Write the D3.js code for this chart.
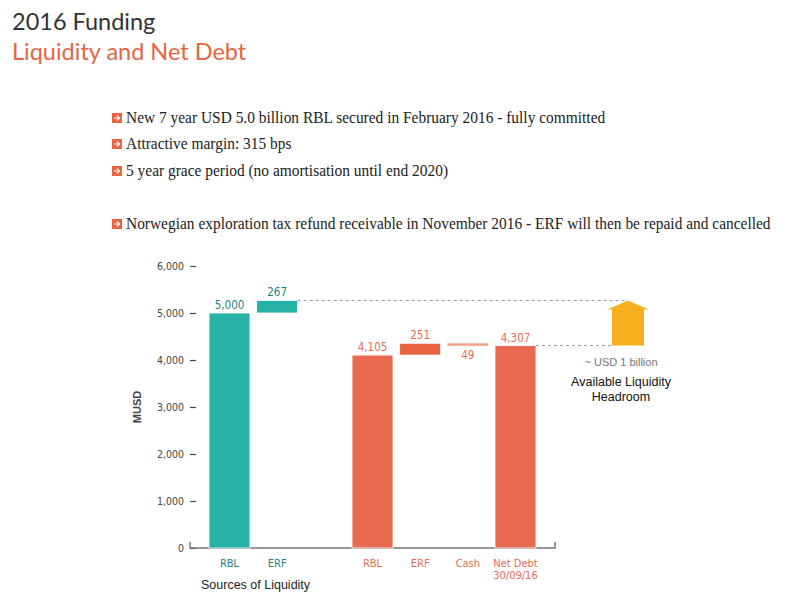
<!DOCTYPE html>
<html>
<head>
<meta charset="utf-8">
<script src="https://cdn.jsdelivr.net/npm/d3@7"></script>
<style>
  body { margin: 0; background: #fff; }
  svg { display: block; }
</style>
</head>
<body>
<div id="chart"></div>
<script>
// --- data ---
const categories = ["RBL", "ERF", "", "RBL ", "ERF ", "Cash", "Net Debt"];
const starts = [0, 5000, null, 0, 4105, 4356, 0];
const ends = [5000, 5267, null, 4105, 4356, 4307, 4307];
const valueLabels = ["5,000", "267", "", "4,105", "251", "49", "4,307"];
const groups = ["source", "source", "", "debt", "debt", "cash", "debt"];
const yTicks = [0, 1000, 2000, 3000, 4000, 5000, 6000];
const bullets = [
  "New 7 year USD 5.0 billion RBL secured in February 2016 - fully committed",
  "Attractive margin: 315 bps",
  "5 year grace period (no amortisation until end 2020)",
  "Norwegian exploration tax refund receivable in November 2016 - ERF will then be repaid and cancelled"
];

const width = 800;
const height = 600;

const teal = "#27b1a7";
const tealText = "#1f7f86";
const orange = "#e96b52";
const orangeDark = "#e8633f";
const cashColor = "#f1a387";
const arrowColor = "#f6b01e";

const svg = d3
  .select("#chart")
  .append("svg")
  .attr("width", width)
  .attr("height", height);

// --- title ---
svg.append("text")
  .attr("x", 12).attr("y", 30)
  .attr("font-family", "Lato, 'Open Sans', sans-serif")
  .attr("font-size", 23.5)
  .attr("fill", "#333")
  .text("2016 Funding");

svg.append("text")
  .attr("x", 12).attr("y", 60)
  .attr("font-family", "Lato, 'Open Sans', sans-serif")
  .attr("font-size", 23.5)
  .attr("fill", "#e8643f")
  .text("Liquidity and Net Debt");

// --- bullets ---
const bulletY = [118, 144, 171, 224];
bullets.forEach((t, i) => {
  const g = svg.append("g").attr("transform", `translate(112,${bulletY[i]})`);
  g.append("rect")
    .attr("x", 0).attr("y", -5)
    .attr("width", 10).attr("height", 10)
    .attr("fill", "#e8643f");
  // small arrow glyph inside the square
  g.append("path")
    .attr("d", "M2,0 H7 M5,-2.5 L7.5,0 L5,2.5")
    .attr("fill", "none")
    .attr("stroke", "#fff")
    .attr("stroke-width", 1.2);
  // condensed look: squeeze the serif text horizontally
  g.append("text")
    .attr("transform", "translate(14,5) scale(0.935,1)")
    .attr("font-family", "'Liberation Serif', 'DejaVu Serif', serif")
    .attr("font-size", 16.5)
    .attr("fill", "#222")
    .text(t);
});

// --- chart ---
const x = d3
  .scaleBand()
  .domain(categories)
  .range([209, 536])
  .paddingInner(0.14)
  .paddingOuter(0);

const y = d3.scaleLinear().domain([0, 6000]).range([548, 266]);

// y axis (ticks only, no domain line)
const yAxis = svg.append("g")
  .attr("transform", "translate(196,0)")
  .call(d3.axisLeft(y).tickValues(yTicks).tickSize(6).tickPadding(6)
    .tickFormat((d) => d3.format(",")(d)));
yAxis.select(".domain").remove();
yAxis.selectAll(".tick line").attr("stroke", "#444").attr("stroke-width", 1.2);
yAxis.selectAll("text")
  .attr("font-family", "'DejaVu Sans Condensed', 'DejaVu Sans', sans-serif")
  .attr("font-size", 10.5)
  .attr("fill", "#444");

svg.append("text")
  .attr("transform", `translate(141,${y(3000)}) rotate(-90)`)
  .attr("text-anchor", "middle")
  .attr("font-family", "'Liberation Sans', Arial, sans-serif")
  .attr("font-size", 11)
  .attr("font-weight", "bold")
  .attr("fill", "#444")
  .text("MUSD");

// baseline with small end caps
svg.append("path")
  .attr("d", `M190,${y(0) - 6} V${y(0)} H555 V${y(0) - 6}`)
  .attr("fill", "none")
  .attr("stroke", "#777")
  .attr("stroke-width", 1.5);

// bars
const barData = categories.map((c, i) => ({
  cat: c, start: starts[i], end: ends[i], label: valueLabels[i], group: groups[i], i
})).filter((d) => d.start !== null);

function barFill(d) {
  if (d.group === "source") return teal;
  if (d.group === "cash") return cashColor;
  if (d.cat === "ERF ") return orangeDark;
  return orange;
}

svg.append("g")
  .selectAll("rect")
  .data(barData)
  .enter()
  .append("rect")
  .attr("x", (d) => x(d.cat))
  .attr("width", x.bandwidth())
  .attr("y", (d) => y(Math.max(d.start, d.end)))
  .attr("height", (d) => Math.max(2.5, Math.abs(y(d.start) - y(d.end))))
  .attr("fill", barFill)
  .attr("stroke", (d) => (d.group === "cash" ? "none" : "#fff"))
  .attr("stroke-width", 0.8);

// value labels
svg.append("g")
  .selectAll("text")
  .data(barData)
  .enter()
  .append("text")
  .attr("x", (d) => x(d.cat) + x.bandwidth() / 2)
  .attr("y", (d) => d.group === "cash" ? y(d.end) + 13 : y(Math.max(d.start, d.end)) - 4)
  .attr("text-anchor", "middle")
  .attr("font-family", "'DejaVu Sans Condensed', 'DejaVu Sans', sans-serif")
  .attr("font-size", 11.5)
  .attr("fill", (d) => (d.group === "source" ? tealText : orange))
  .text((d) => d.label);

// category labels
const catG = svg.append("g");
barData.forEach((d) => {
  const t = catG.append("text")
    .attr("x", x(d.cat) + x.bandwidth() / 2)
    .attr("y", 567)
    .attr("text-anchor", "middle")
    .attr("font-family", "'DejaVu Sans Condensed', 'DejaVu Sans', sans-serif")
    .attr("font-size", 11)
    .attr("fill", d.group === "source" ? tealText : orange);
  t.append("tspan").text(d.cat.trim());
  if (d.cat === "Net Debt") {
    t.append("tspan")
      .attr("x", x(d.cat) + x.bandwidth() / 2)
      .attr("dy", 12)
      .text("30/09/16");
  }
});

svg.append("text")
  .attr("x", 201).attr("y", 589)
  .attr("font-family", "'Liberation Sans', Arial, sans-serif")
  .attr("font-size", 12.5)
  .attr("fill", "#222")
  .text("Sources of Liquidity");

// --- headroom arrow ---
const arrowCx = 628;
const topVal = ends[1];
const netDebt = ends[6];

svg.append("line")
  .attr("x1", x("ERF") + x.bandwidth()).attr("x2", arrowCx)
  .attr("y1", y(topVal)).attr("y2", y(topVal))
  .attr("stroke", "#999").attr("stroke-dasharray", "3,3");

svg.append("line")
  .attr("x1", x("Net Debt") + x.bandwidth()).attr("x2", 612)
  .attr("y1", y(netDebt)).attr("y2", y(netDebt))
  .attr("stroke", "#999").attr("stroke-dasharray", "3,3");

const yTop = y(topVal);
const yBot = y(netDebt);
svg.append("path")
  .attr("d", `M${arrowCx},${yTop} L${arrowCx + 21},${yTop + 9} L${arrowCx + 16},${yTop + 9}
    L${arrowCx + 16},${yBot} L${arrowCx - 16},${yBot} L${arrowCx - 16},${yTop + 9}
    L${arrowCx - 21},${yTop + 9} Z`)
  .attr("fill", arrowColor);

svg.append("text")
  .attr("x", 621).attr("y", 366)
  .attr("text-anchor", "middle")
  .attr("font-family", "'Liberation Sans', Arial, sans-serif")
  .attr("font-size", 11)
  .attr("fill", "#777")
  .text("~ USD 1 billion");

svg.append("text")
  .attr("x", 621).attr("y", 386)
  .attr("text-anchor", "middle")
  .attr("font-family", "'Liberation Sans', Arial, sans-serif")
  .attr("font-size", 12.5)
  .attr("fill", "#111")
  .text("Available Liquidity");

svg.append("text")
  .attr("x", 621).attr("y", 401)
  .attr("text-anchor", "middle")
  .attr("font-family", "'Liberation Sans', Arial, sans-serif")
  .attr("font-size", 12.5)
  .attr("fill", "#111")
  .text("Headroom");
</script>
</body>
</html>
